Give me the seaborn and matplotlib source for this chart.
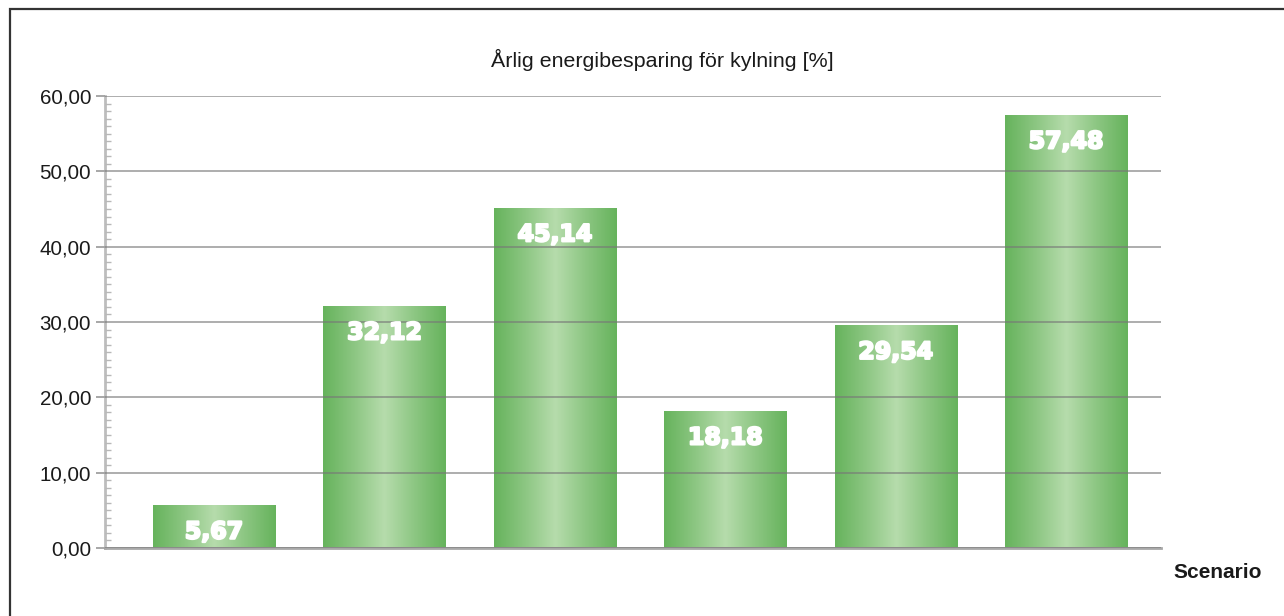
import numpy as np
import matplotlib
matplotlib.use('Agg')
import matplotlib.pyplot as plt
import seaborn as sns
import pandas as pd
from matplotlib.colors import LinearSegmentedColormap
from matplotlib.ticker import MultipleLocator, FuncFormatter
import matplotlib.patheffects as pe

# ---- data ----
scenarios = ['1', '2', '3', '4', '5', '6']
savings = [5.67, 32.12, 45.14, 18.18, 29.54, 57.48]
value_labels = ['5,67', '32,12', '45,14', '18,18', '29,54', '57,48']
title_text = 'Årlig energibesparing för kylning [%]'
xlabel_text = 'Scenario'

sns.set_theme(style='white')
plt.rcParams['font.family'] = ['Liberation Sans', 'DejaVu Sans']

W, H = 1284, 616
fig = plt.figure(figsize=(W / 100, H / 100), dpi=100)
ax = fig.add_axes([105 / W, 1 - 548 / H, (1161 - 105) / W, (548 - 96) / H])

df = pd.DataFrame({'scenario': scenarios, 'saving': savings})
sns.barplot(data=df, x='scenario', y='saving', color='#7cbd6f', width=0.716,
            ax=ax, errorbar=None, zorder=2)

xlim = (-0.64, 5.557)
ylim = (0, 60)

# gradient fill for each bar
cmap = LinearSegmentedColormap.from_list(
    'bar', ['#66b35c', '#8cc682', '#b6dcac', '#8cc682', '#66b35c'])
grad = np.linspace(0, 1, 256).reshape(1, -1)
for p in ax.patches:
    x0, y0 = p.get_x(), p.get_y()
    w, h = p.get_width(), p.get_height()
    p.set_facecolor('none')
    p.set_edgecolor('none')
    im = ax.imshow(grad, extent=[x0, x0 + w, y0, y0 + h], aspect='auto',
                   cmap=cmap, zorder=2, interpolation='bilinear')
    im.set_clip_path(p)

ax.set_xlim(*xlim)
ax.set_ylim(*ylim)
ax.set_aspect('auto')

# grid above bars
ax.set_axisbelow(False)
ax.yaxis.grid(True, color='#777777', lw=1.3, alpha=0.65)
ax.xaxis.grid(False)

ax.yaxis.set_major_locator(MultipleLocator(10))
ax.yaxis.set_minor_locator(MultipleLocator(1))
ax.yaxis.set_major_formatter(FuncFormatter(lambda v, _: f'{v:.2f}'.replace('.', ',')))
ax.tick_params(axis='y', which='major', direction='out', length=6.5, width=1.3,
               color='#a0a0a0', pad=3.5, labelsize=14.8, labelcolor='#1a1a1a', left=True)
ax.tick_params(axis='y', which='minor', direction='in', length=4, width=1,
               color='#b8b8b8', left=True)
ax.set_xticks([])
ax.set_xlabel('')
ax.set_ylabel('')

for s in ['top', 'right']:
    ax.spines[s].set_visible(False)
ax.spines['left'].set_color('#bdbdbd')
ax.spines['left'].set_linewidth(2)
ax.spines['bottom'].set_color('#a8a8a8')
ax.spines['bottom'].set_linewidth(2)

# value labels
for i, (v, lbl) in enumerate(zip(savings, value_labels)):
    ax.annotate(lbl, (i, v), xytext=(0, -19), textcoords='offset points',
                ha='center', va='center', color='white', fontsize=17,
                fontweight='bold', family=['DejaVu Sans'], zorder=5,
                path_effects=[pe.withStroke(linewidth=1.6, foreground='white')])

fig.text(662 / W, 1 - 60 / H, title_text, ha='center', va='center',
         fontsize=15.4, color='#1a1a1a')
fig.text(1218 / W, 1 - 572 / H, xlabel_text, ha='center', va='center',
         fontsize=15, fontweight='bold', color='#1a1a1a')

# outer frame (top and left border)
fig.add_artist(plt.Rectangle((10 / W, -0.2), 1.5, 1 - 9 / H + 0.2,
                             transform=fig.transFigure, fill=False,
                             ec='#333333', lw=1.6))

fig.savefig('out.png', dpi=100, facecolor='white')
